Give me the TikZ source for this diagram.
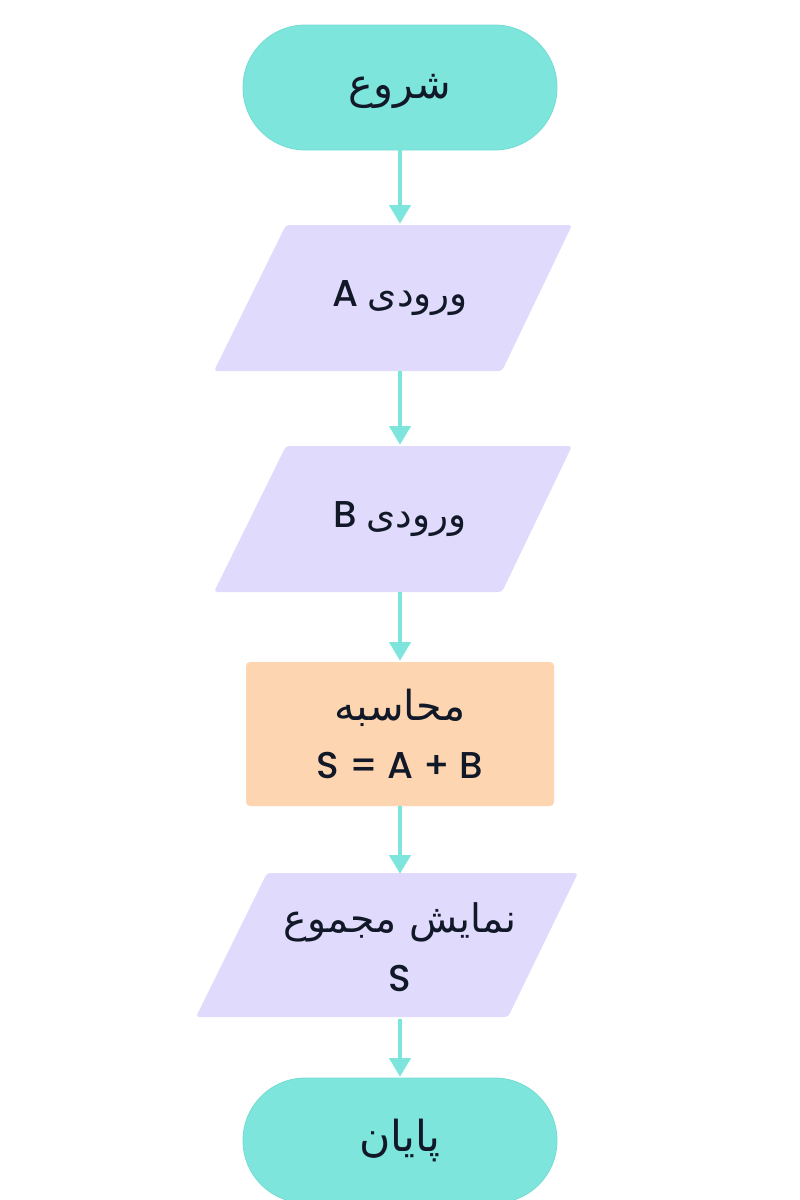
\documentclass[tikz,border=0pt]{standalone}
\usepackage{fontspec}
\setmainfont{Poppins}[UprightFont=* Medium]
\newfontfamily\arabicfont[Script=Arabic]{DejaVu Sans}
\TeXXeTstate=1
\usetikzlibrary{arrows.meta}
\definecolor{termfill}{HTML}{7DE5DC}
\definecolor{termline}{HTML}{72DCD2}
\definecolor{iofill}{HTML}{E0DAFC}
\definecolor{procfill}{HTML}{FDD5B1}
\definecolor{flowcol}{HTML}{7DE5DC}
\definecolor{txt}{HTML}{111827}
\tikzset{
  basetext/.style={text=txt, font=\fontsize{28}{44}\selectfont, align=center, outer sep=0pt, inner sep=0pt},
  terminal/.style={basetext, fill=termfill, draw=termline, line width=0.6pt,
    minimum width=235.5pt, minimum height=93.75pt, rounded corners=46.8pt},
  iobox/.style={basetext, minimum width=160pt, minimum height=109.5pt},
  iofillstyle/.style={fill=iofill, rounded corners=2.5pt},
  procbox/.style={basetext, fill=procfill, minimum width=231pt, minimum height=108pt, rounded corners=3pt},
  flow/.style={draw=flowcol, line width=2.6pt, -{Triangle[width=16pt,length=14pt]}, shorten >=1pt}
}
\begin{document}
\begin{tikzpicture}[x=0.75pt,y=-0.75pt]
\useasboundingbox (0,0) rectangle (800,1200);
\fill[white] (0,0) rectangle (800,1200);
\clip (0,0) rectangle (800,1200);
% parallelogram backgrounds
\fill[iofillstyle] (286,225) -- (572,225) -- (502,371) -- (214,371) -- cycle;
\fill[iofillstyle] (286,446) -- (572,446) -- (502,592) -- (214,592) -- cycle;
\fill[iofillstyle] (267,873) -- (578,873) -- (508,1017) -- (196,1017) -- cycle;
% nodes
\node[terminal] (start) at (400,87.5) {\raisebox{-8pt}[0pt][0pt]{\fontsize{31}{44}\selectfont\arabicfont\beginR شروع\endR}};
\node[iobox] (inA) at (400,298) {\beginR{\arabicfont ورودی} A\endR};
\node[iobox] (inB) at (400,519) {\beginR{\arabicfont ورودی} B\endR};
\node[procbox] (calc) at (400,734) {{\fontsize{31}{44}\selectfont\arabicfont\beginR محاسبه\endR}\\S = A + B};
\node[iobox, minimum height=108pt] (out) at (400,947) {{\fontsize{29.5}{44}\selectfont\arabicfont\beginR نمایش مجموع\endR}\\S};
\node[terminal] (stop) at (400,1140.5) {\raisebox{-8pt}[0pt][0pt]{\fontsize{32}{44}\selectfont\arabicfont\beginR پایان\endR}};
% connectors
\draw[flow] (start) -- (inA);
\draw[flow] (inA) -- (inB);
\draw[flow] (inB) -- (calc);
\draw[flow] (calc) -- (out);
\draw[flow] (out) -- (stop);
\end{tikzpicture}
\end{document}
